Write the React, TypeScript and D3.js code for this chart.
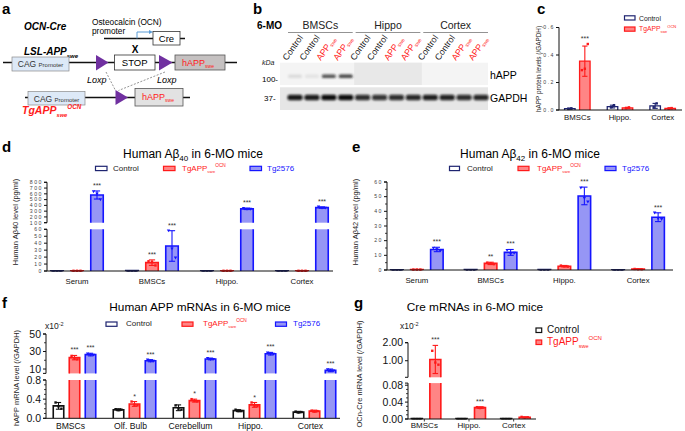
import React from 'react';
import * as d3 from 'd3';

const FONT = '"Liberation Sans", Arial, Helvetica, sans-serif';
const RED = '#ff1a1a';
const RED_FILL = '#ff8585';
const BLUE = '#1515ff';
const BLUE_FILL = '#9696f5';
const NAVY = '#1e2470';
const PURPLE = '#7030a0';

// b: western blot lanes
const blotTissues = ['BMSCs', 'Hippo', 'Cortex'];
const blotLanes = ['Control', 'Control', 'APPswe', 'APPswe', 'Control', 'Control', 'APPswe', 'APPswe', 'Control', 'Control', 'APPswe', 'APPswe'];
const hAPPBand = [0.1, 0.07, 0.75, 0.82, 0, 0, 0, 0, 0, 0, 0, 0];
const gapdhBand = [0.95, 0.93, 1, 1, 0.85, 0.82, 0.85, 0.88, 0.92, 0.9, 0.85, 0.88];

// c: hAPP protein / GAPDH
const cGroups = ['BMSCs', 'Hippo.', 'Cortex'];
const cControl = [0.01, 0.025, 0.03];
const cControlErr = [0.004, 0.01, 0.018];
const cControlPts = [[0.008, 0.012], [0.02, 0.035], [0.02, 0.048]];
const cTg = [0.355, 0.016, 0.012];
const cTgErr = [0.11, 0.004, 0.004];
const cTgPts = [[0.29, 0.3, 0.48], [0.013, 0.019], [0.01, 0.014]];
const cTgStars = ['***', '', ''];
const cTicks = [0, 0.2, 0.4, 0.6];

// d: Abeta40 (pg/ml)
const dGroups = ['Serum', 'BMSCs', 'Hippo.', 'Cortex'];
const dControl = [0.3, 0.6, 0.3, 0.3];
const dTg = [0.3, 12, 0.3, 0.3];
const dTgErr = [0, 4, 0, 0];
const dTgPts = [[0.3, 0.3, 0.3], [14, 13, 8], [0.3, 0.3, 0.3], [0.3, 0.3, 0.3]];
const dTgStars = ['', '***', '', ''];
const d2576 = [580, 36, 340, 362];
const d2576Err = [70, 22, 12, 12];
const d2576Pts = [[640, 600, 500], [58, 32, 19], [350, 335, 335], [375, 355, 356]];
const d2576Stars = ['***', '***', '***', '***'];
const dLowTicks = [0, 10, 20, 30, 40, 50, 60];
const dHighTicks = [100, 200, 300, 400, 500, 600, 700, 800];

// e: Abeta42 (pg/ml)
const eGroups = ['Serum', 'BMSCs', 'Hippo.', 'Cortex'];
const eControl = [0.2, 0.3, 0.3, 0.2];
const eTg = [0.3, 4.5, 2.6, 0.6];
const eTgErr = [0, 0.8, 0.5, 0.2];
const eTgPts = [[0.3, 0.3, 0.3], [5, 4.5, 4], [3, 2.5, 2.3], [0.7, 0.5, 0.5]];
const eTgStars = ['', '**', '', ''];
const e2576 = [14, 12, 50.5, 36];
const e2576Err = [1.5, 2, 6, 3];
const e2576Pts = [[15, 14, 13], [13.5, 11, 11.5], [56, 49, 46.5], [39, 35, 34.5]];
const e2576Stars = ['***', '***', '***', '***'];
const eTicks = [0, 10, 20, 30, 40, 50, 60];
const eMinor = [5, 15, 25, 35, 45, 55];

// f: human APP mRNA (x10^-2)
const fGroups = ['BMSCs', 'Olf. Bulb', 'Cerebellum', 'Hippo.', 'Cortex'];
const fControl = [0.26, 0.18, 0.22, 0.16, 0.13];
const fControlErr = [0.07, 0.02, 0.06, 0.02, 0.015];
const fControlPts = [[0.33, 0.25, 0.2], [0.19, 0.17, 0.18], [0.27, 0.2, 0.18], [0.18, 0.15, 0.15], [0.14, 0.12, 0.13]];
const fTg = [23, 0.3, 0.37, 0.28, 0.15];
const fTgErr = [2.5, 0.05, 0.03, 0.05, 0.02];
const fTgPts = [[25, 22, 21], [0.35, 0.28, 0.27], [0.4, 0.36, 0.35], [0.33, 0.26, 0.25], [0.16, 0.14, 0.15]];
const fTgStars = ['***', '*', '*', '*', ''];
const f2576 = [26.5, 19.5, 21.5, 27.5, 8.5];
const f2576Err = [1.5, 1.2, 1, 1.5, 1.5];
const f2576Pts = [[27.5, 26, 26], [20.5, 19, 19], [22.3, 21, 21.2], [28.5, 27, 27], [9.5, 8, 8]];
const f2576Stars = ['***', '***', '***', '***', '***'];

// g: Cre mRNA (x10^-2)
const gGroups = ['BMSCs', 'Hippo.', 'Cortex'];
const gControl = [0.001, 0.001, 0.001];
const gControlPts = [[0.001, 0.001, 0.001], [0.001, 0.001, 0.001], [0.001, 0.001, 0.001]];
const gTg = [1.07, 0.027, 0.004];
const gTgErr = [0.78, 0.002, 0.001];
const gTgPts = [[1.55, 0.9, 0.78], [0.028, 0.026, 0.027], [0.005, 0.003, 0.004]];
const gTgStars = ['***', '***', ''];

type Marker = 'tri' | 'sq' | 'dash' | 'circ';
type Series = { values: number[]; errs: number[]; points: number[][]; stars: string[]; stroke: string; fill: string; marker: Marker };
type Seg = { domain: [number, number]; range: [number, number]; ticks: number[]; minor?: number[]; fmt: (v: number) => string };
type TickStyle = { size: number; spacing: number; fill: string; gap: number };

const tinyTick: TickStyle = { size: 5.2, spacing: 1.5, fill: '#444', gap: 4 };
const bigTick: TickStyle = { size: 10.5, spacing: 0, fill: '#111', gap: 5 };

const zeros = (n: number) => new Array(n).fill(0);
const noStars = (n: number) => new Array(n).fill('');

function segScale(seg: Seg) {
  return d3.scaleLinear().domain(seg.domain).range(seg.range).clamp(true);
}

function makeY(segs: Seg[]) {
  const sc = segs.map(segScale);
  return (v: number) => {
    const i = segs.findIndex((s) => v <= s.domain[1]);
    return sc[i < 0 ? segs.length - 1 : i](v);
  };
}

function Mark({ type, x, y, color }: any) {
  if (type === 'tri') return <path d={`M${x - 1.7},${y - 1.3}H${x + 1.7}L${x},${y + 1.6}Z`} fill={color} />;
  if (type === 'sq') return <rect x={x - 1.2} y={y - 1.2} width={2.4} height={2.4} fill={color} />;
  if (type === 'circ') return <circle cx={x} cy={y} r={1.3} fill={color} />;
  return <rect x={x - 1.3} y={y - 0.7} width={2.6} height={1.4} fill={color} />;
}

function BarChart({ groups, series, x0, x1, offsets, barW, segs, axisX, xEnd, tick, labelY, labelSize, labelDx = 0, strokeW = 1.3, starSize = 7, catTicks = false }: any) {
  const x = d3.scaleBand<string>().domain(groups).range([x0, x1]);
  const y = makeY(segs);
  const base = segs[0].range[0];
  const center = (gi: number) => (x(groups[gi]) as number) + x.bandwidth() / 2;

  return (
    <g>
      {series.map((s: Series, si: number) =>
        groups.map((g: string, gi: number) => {
          const cx = center(gi) + offsets[si];
          const v = s.values[gi];
          const e = s.errs[gi];
          const left = cx - barW / 2;
          const pts = s.points[gi];
          const spread = barW * 0.28;
          const topVal = Math.max(v + e, ...(pts.length ? pts : [v]));
          return (
            <g key={`${si}-${g}`}>
              {segs.map((seg: Seg, k: number) => {
                const lo = k === 0 ? 0 : seg.domain[0];
                if (v <= lo) return null;
                const sc = segScale(seg);
                const yb = sc(lo);
                const yt = sc(Math.min(v, seg.domain[1]));
                const isTop = v <= seg.domain[1] || k === segs.length - 1;
                const d = `M${left},${yb}V${yt}${isTop ? `H${left + barW}` : `M${left + barW},${yt}`}V${yb}`;
                return (
                  <g key={k}>
                    <rect x={left} y={yt} width={barW} height={Math.max(0, yb - yt)} fill={s.fill} />
                    <path d={d} fill="none" stroke={s.stroke} strokeWidth={strokeW} />
                  </g>
                );
              })}
              {e > 0 && (
                <g stroke={s.stroke} strokeWidth={1.1}>
                  <line x1={cx} x2={cx} y1={y(Math.max(0, v - e))} y2={y(v + e)} />
                  <line x1={cx - barW * 0.25} x2={cx + barW * 0.25} y1={y(v + e)} y2={y(v + e)} />
                  <line x1={cx - barW * 0.25} x2={cx + barW * 0.25} y1={y(Math.max(0, v - e))} y2={y(Math.max(0, v - e))} />
                </g>
              )}
              {pts.map((p: number, pi: number) => (
                <Mark key={pi} type={s.marker} x={cx + (pi - (pts.length - 1) / 2) * spread} y={y(p)} color={s.stroke} />
              ))}
              {s.stars[gi] && (
                <text x={cx} y={y(topVal) - 3} textAnchor="middle" fontSize={starSize} fill="#333">
                  {s.stars[gi]}
                </text>
              )}
            </g>
          );
        })
      )}
      {segs.map((seg: Seg, k: number) => {
        const sc = segScale(seg);
        return (
          <g key={k} stroke="#111">
            <line x1={axisX} x2={axisX} y1={seg.range[0]} y2={seg.range[1]} strokeWidth={1} />
            {seg.range.map((r, ri) => (
              <line key={`e${ri}`} x1={axisX - 3} x2={axisX} y1={r} y2={r} strokeWidth={1} />
            ))}
            {seg.ticks.map((t) => (
              <g key={t}>
                <line x1={axisX - 3} x2={axisX} y1={sc(t)} y2={sc(t)} strokeWidth={1} />
                <text x={axisX - tick.gap} y={sc(t)} dy="0.35em" textAnchor="end" fontSize={tick.size} letterSpacing={tick.spacing} fill={tick.fill} stroke="none">
                  {seg.fmt(t)}
                </text>
              </g>
            ))}
            {(seg.minor || []).map((t) => (
              <line key={`m${t}`} x1={axisX - 2} x2={axisX} y1={sc(t)} y2={sc(t)} strokeWidth={0.8} />
            ))}
          </g>
        );
      })}
      <line x1={axisX} x2={xEnd} y1={base} y2={base} stroke="#111" strokeWidth={1} />
      {groups.map((g: string, gi: number) => (
        <g key={g}>
          {catTicks && <line x1={center(gi) + labelDx} x2={center(gi) + labelDx} y1={base} y2={base + 2.5} stroke="#111" strokeWidth={0.8} />}
          <text x={center(gi) + labelDx} y={labelY} textAnchor="middle" fontSize={labelSize} fill="#111">
            {g}
          </text>
        </g>
      ))}
    </g>
  );
}

function TgText({ x, y, size, fill = RED, anchor = 'start', bold = false, italic = false }: any) {
  return (
    <text x={x} y={y} fontSize={size} fill={fill} textAnchor={anchor} fontWeight={bold ? 'bold' : 'normal'} fontStyle={italic ? 'italic' : 'normal'}>
      TgAPP
      <tspan fontSize={size * 0.55} dy={size * 0.25}>swe</tspan>
      <tspan fontSize={size * 0.6} dy={-size * 0.75}>OCN</tspan>
    </text>
  );
}

function LegBox({ x, y, w = 11, h = 4.5, fill, stroke }: any) {
  return <rect x={x} y={y} width={w} height={h} fill={fill} stroke={stroke} strokeWidth={1.2} />;
}

function PanelLetter({ x, y, t }: any) {
  return <text x={x} y={y} fontSize={15} fontWeight="bold">{t}</text>;
}

function PanelA() {
  return (
    <g>
      <PanelLetter x={2} y={14} t="a" />
      <text x={24} y={30} fontSize={10} fontWeight="bold" fontStyle="italic">OCN-Cre</text>
      <text x={92} y={24.5} fontSize={8.3}>Osteocalcin (OCN)</text>
      <text x={92} y={34} fontSize={8.3}>promoter</text>
      <line x1={104} x2={185} y1={38.5} y2={38.5} stroke="#111" strokeWidth={1.3} />
      <path d="M137,38.5V32H150" fill="none" stroke="#5b9bd5" strokeWidth={1} />
      <path d="M149,30L153,32L149,34Z" fill="#5b9bd5" />
      <rect x={153} y={31.5} width={27} height={13.5} fill="#fff" stroke="#333" strokeWidth={0.8} />
      <text x={166.5} y={42} fontSize={9.5} textAnchor="middle">Cre</text>

      <text x={24} y={55} fontSize={10} fontWeight="bold" fontStyle="italic">
        LSL-APP<tspan fontSize={6} dy={2.5}>swe</tspan>
      </text>
      <text x={135} y={53} fontSize={10} fontWeight="bold" textAnchor="middle">X</text>
      <line x1={3} x2={237} y1={62.5} y2={62.5} stroke="#111" strokeWidth={1.3} />
      <rect x={12} y={57} width={57} height={14} fill="#dde9f7" stroke="#8a8a8a" strokeWidth={0.7} />
      <text x={40.5} y={67} fontSize={8.5} textAnchor="middle" fill="#333">
        CAG <tspan fontSize={6}>Promoter</tspan>
      </text>
      <path d="M96,55L108.5,62.5L96,70.5Z" fill={PURPLE} />
      <rect x={114.5} y={55} width={40.5} height={15} fill="#fff" stroke="#333" strokeWidth={0.8} />
      <text x={134.7} y={66} fontSize={9.5} textAnchor="middle">STOP</text>
      <path d="M159,55L172.5,62.5L159,70.5Z" fill={PURPLE} />
      <rect x={175} y={55} width={50} height={15} fill="#c5c1c1" stroke="#555" strokeWidth={0.8} />
      <text x={182} y={66} fontSize={9} fill={RED}>
        hAPP<tspan fontSize={5} dy={1.5}>swe</tspan>
      </text>
      <text x={87} y={83} fontSize={9} fontStyle="italic">Loxp</text>
      <text x={157} y={83} fontSize={9} fontStyle="italic">Loxp</text>
      <line x1={106} y1={72} x2={115.5} y2={90.5} stroke="#666" strokeWidth={0.7} strokeDasharray="2,1.5" />
      <line x1={165} y1={72} x2={118.5} y2={90.5} stroke="#666" strokeWidth={0.7} strokeDasharray="2,1.5" />

      <line x1={25} x2={190} y1={97.5} y2={97.5} stroke="#111" strokeWidth={1.3} />
      <rect x={28} y={91.5} width={57} height={13.5} fill="#dde9f7" stroke="#8a8a8a" strokeWidth={0.7} />
      <text x={56.5} y={101.5} fontSize={8.5} textAnchor="middle" fill="#333">
        CAG <tspan fontSize={6}>Promoter</tspan>
      </text>
      <path d="M115.5,90L128,97.5L115.5,105Z" fill={PURPLE} />
      <rect x={135} y={88.5} width={48} height={17.5} fill="#e2e2e2" stroke="#555" strokeWidth={0.8} />
      <text x={142} y={100} fontSize={9} fill={RED}>
        hAPP<tspan fontSize={5} dy={1.5}>swe</tspan>
      </text>
      <TgText x={22} y={114} size={10.5} bold italic />
    </g>
  );
}

function PanelB() {
  const lane = d3.scalePoint<number>().domain(d3.range(blotLanes.length)).range([295, 481]);
  const lx = (i: number) => lane(i) as number;
  return (
    <g>
      <defs>
        <filter id="bl" x="-50%" y="-50%" width="200%" height="200%">
          <feGaussianBlur stdDeviation="0.9" />
        </filter>
      </defs>
      <PanelLetter x={253} y={14} t="b" />
      <text x={257} y={28.5} fontSize={10} fontWeight="bold">6-MO</text>
      {blotTissues.map((t, ti) => {
        const a = lx(ti * 4) - 7;
        const b = lx(ti * 4 + 3) + 7;
        return (
          <g key={t}>
            <text x={(a + b) / 2} y={28.5} fontSize={10.5} textAnchor="middle" fill="#222">{t}</text>
            <line x1={a} x2={b} y1={32.5} y2={32.5} stroke="#777" strokeWidth={0.8} />
          </g>
        );
      })}
      {blotLanes.map((l, i) => (
        <text key={i} transform={`translate(${lx(i) - 8},${61}) rotate(-55)`} fontSize={8.8} fill={l === 'Control' ? '#111' : RED}>
          {l === 'Control' ? 'Control' : (
            <>
              APP<tspan fontSize={5.2} dy={1.5}>swe</tspan>
            </>
          )}
        </text>
      ))}
      <rect x={280} y={62.7} width={208} height={22.3} fill="#f4f4f4" />
      <rect x={lx(4) - 8.5} y={62.7} width={lx(7) - lx(4) + 17} height={22.3} fill="#e8e8e8" />
      <rect x={280} y={87.3} width={208} height={22.7} fill="#e6e6e6" />
      <g filter="url(#bl)">
        {hAPPBand.map((v, i) =>
          v > 0 ? <rect key={i} x={lx(i) - 7} y={74.5} width={14} height={3.5} rx={1.5} fill={`rgba(30,30,30,${v})`} /> : null
        )}
        {gapdhBand.map((v, i) => (
          <rect key={i} x={lx(i) - 7.5} y={94.8} width={15} height={5.5} rx={2} fill={`rgba(12,12,12,${v})`} />
        ))}
      </g>
      <text x={262} y={65} fontSize={7} fontStyle="italic" fill="#222">kDa</text>
      <text x={262} y={81.5} fontSize={8}>100-</text>
      <text x={264} y={100.5} fontSize={8}>37-</text>
      <text x={490} y={79} fontSize={10.5}>hAPP</text>
      <text x={490} y={101.5} fontSize={10.5}>GAPDH</text>
    </g>
  );
}

export default function App() {
  const fmt1 = d3.format('.1f');
  const fmt0 = d3.format('d');
  const fmt2 = d3.format('.2f');

  const cSeries: Series[] = [
    { values: cControl, errs: cControlErr, points: cControlPts, stars: noStars(3), stroke: NAVY, fill: '#fff', marker: 'sq' },
    { values: cTg, errs: cTgErr, points: cTgPts, stars: cTgStars, stroke: RED, fill: RED_FILL, marker: 'sq' },
  ];
  const dSeries: Series[] = [
    { values: dControl, errs: zeros(4), points: [[0, 0, 0], [0, 0, 0], [0, 0, 0], [0, 0, 0]], stars: noStars(4), stroke: NAVY, fill: '#fff', marker: 'dash' },
    { values: dTg, errs: dTgErr, points: dTgPts, stars: dTgStars, stroke: RED, fill: RED_FILL, marker: 'sq' },
    { values: d2576, errs: d2576Err, points: d2576Pts, stars: d2576Stars, stroke: BLUE, fill: BLUE_FILL, marker: 'tri' },
  ];
  const eSeries: Series[] = [
    { values: eControl, errs: zeros(4), points: [[0, 0, 0], [0, 0, 0], [0, 0, 0], [0, 0, 0]], stars: noStars(4), stroke: NAVY, fill: '#fff', marker: 'dash' },
    { values: eTg, errs: eTgErr, points: eTgPts, stars: eTgStars, stroke: RED, fill: RED_FILL, marker: 'sq' },
    { values: e2576, errs: e2576Err, points: e2576Pts, stars: e2576Stars, stroke: BLUE, fill: BLUE_FILL, marker: 'tri' },
  ];
  const fSeries: Series[] = [
    { values: fControl, errs: fControlErr, points: fControlPts, stars: noStars(5), stroke: '#111', fill: '#fff', marker: 'sq' },
    { values: fTg, errs: fTgErr, points: fTgPts, stars: fTgStars, stroke: RED, fill: RED_FILL, marker: 'sq' },
    { values: f2576, errs: f2576Err, points: f2576Pts, stars: f2576Stars, stroke: BLUE, fill: BLUE_FILL, marker: 'tri' },
  ];
  const gSeries: Series[] = [
    { values: gControl, errs: zeros(3), points: gControlPts, stars: noStars(3), stroke: '#111', fill: '#fff', marker: 'dash' },
    { values: gTg, errs: gTgErr, points: gTgPts, stars: gTgStars, stroke: RED, fill: RED_FILL, marker: 'sq' },
  ];

  return (
    <svg width={685} height={431} style={{ position: 'absolute', left: 0, top: 0, background: '#fff' }} fontFamily={FONT}>
      <PanelA />
      <PanelB />

      {/* c */}
      <PanelLetter x={537} y={14} t="c" />
      <text transform="translate(541,69) rotate(-90)" fontSize={6.4} textAnchor="middle" fill="#222">hAPP protein levels (/GAPDH)</text>
      <LegBox x={624.5} y={15.8} w={10.5} h={4.2} fill="#fff" stroke={NAVY} />
      <text x={639} y={20.5} fontSize={6.8} fill="#222">Control</text>
      <LegBox x={624.5} y={27} w={10.5} h={4.2} fill={RED_FILL} stroke={RED} />
      <TgText x={639} y={31.2} size={6.8} />
      <BarChart groups={cGroups} series={cSeries} x0={556} x1={684} offsets={[-7.5, 7.5]} barW={10.5}
        segs={[{ domain: [0, 0.6], range: [110, 27.5], ticks: cTicks, fmt: fmt1 }]}
        axisX={559} xEnd={682} tick={tinyTick} labelY={120} labelSize={7.8} />

      {/* d */}
      <PanelLetter x={2} y={152} t="d" />
      <text x={193} y={158} fontSize={12} textAnchor="middle">
        Human Aβ<tspan fontSize={8} dy={2.5}>40</tspan><tspan dy={-2.5}> in 6-MO mice</tspan>
      </text>
      <LegBox x={95.5} y={166.3} w={11.5} h={4.3} fill="#fff" stroke={NAVY} />
      <text x={113} y={170.5} fontSize={8} fill="#222">Control</text>
      <LegBox x={163.5} y={166.3} w={11.5} h={4.3} fill={RED_FILL} stroke={RED} />
      <TgText x={182} y={170.5} size={8} />
      <LegBox x={250} y={166.3} w={11.5} h={4.3} fill={BLUE_FILL} stroke={BLUE} />
      <text x={267} y={170.5} fontSize={8} fill={BLUE}>Tg2576</text>
      <text transform="translate(18,222) rotate(-90)" fontSize={7.5} textAnchor="middle" fill="#222">Human Aβ40 level (pg/ml)</text>
      <BarChart groups={dGroups} series={dSeries} x0={39.5} x1={339.5} offsets={[-20, 0, 20]} barW={12.5} strokeW={1.6}
        segs={[
          { domain: [0, 60], range: [271, 229.3], ticks: dLowTicks, fmt: fmt0 },
          { domain: [100, 800], range: [222.7, 182.3], ticks: dHighTicks, fmt: fmt0 },
        ]}
        axisX={47} xEnd={333} tick={tinyTick} labelY={284} labelSize={7.8} />

      {/* e */}
      <PanelLetter x={352} y={152} t="e" />
      <text x={530} y={158} fontSize={12} textAnchor="middle">
        Human Aβ<tspan fontSize={8} dy={2.5}>42</tspan><tspan dy={-2.5}> in 6-MO mice</tspan>
      </text>
      <LegBox x={449.5} y={166.3} w={10} h={4.3} fill="#fff" stroke={NAVY} />
      <text x={467} y={170.5} fontSize={8} fill="#222">Control</text>
      <LegBox x={518} y={166.3} w={11} h={4.3} fill={RED_FILL} stroke={RED} />
      <TgText x={537} y={170.5} size={8} />
      <LegBox x={605} y={166.3} w={11} h={4.3} fill={BLUE_FILL} stroke={BLUE} />
      <text x={622} y={170.5} fontSize={8} fill={BLUE}>Tg2576</text>
      <text transform="translate(358,222) rotate(-90)" fontSize={7.5} textAnchor="middle" fill="#222">Human Aβ42 level (pg/ml)</text>
      <BarChart groups={eGroups} series={eSeries} x0={380} x1={675} offsets={[-20, 0, 20]} barW={12.5} strokeW={1.6}
        segs={[{ domain: [0, 60], range: [270, 182], ticks: eTicks, minor: eMinor, fmt: fmt0 }]}
        axisX={387} xEnd={673} tick={tinyTick} labelY={283} labelSize={7.8} />

      {/* f */}
      <PanelLetter x={2} y={308} t="f" />
      <text x={200} y={311} fontSize={11.8} textAnchor="middle">Human APP mRNAs in 6-MO mice</text>
      <LegBox x={106} y={322} w={11} h={4.3} fill="#fff" stroke={NAVY} />
      <text x={126} y={326} fontSize={8} fill="#222">Control</text>
      <LegBox x={182} y={322} w={11} h={4.3} fill={RED_FILL} stroke={RED} />
      <TgText x={203} y={326} size={8} />
      <LegBox x={275.5} y={322} w={11} h={4.3} fill={BLUE_FILL} stroke={BLUE} />
      <text x={293} y={326} fontSize={8} fill={BLUE}>Tg2576</text>
      <text x={45} y={329} fontSize={8.5} fill="#222">x10<tspan fontSize={5.5} dy={-3.5}>-2</tspan></text>
      <text transform="translate(19,378) rotate(-90)" fontSize={7.5} textAnchor="middle" fill="#222">hAPP mRNA level (/GAPDH)</text>
      <BarChart groups={fGroups} series={fSeries} x0={44.5} x1={344.5} offsets={[-16, 0, 16]} barW={10.5} strokeW={1.6}
        segs={[
          { domain: [0, 0.8], range: [418.3, 380], ticks: [0, 0.4, 0.8], minor: [0.1, 0.2, 0.3, 0.5, 0.6, 0.7], fmt: fmt1 },
          { domain: [5, 50], range: [373.4, 334], ticks: [10, 30, 50], minor: [20, 40], fmt: fmt0 },
        ]}
        axisX={46} xEnd={340} tick={bigTick} labelY={428.5} labelSize={8.6} labelDx={-4} />

      {/* g */}
      <PanelLetter x={354} y={308} t="g" />
      <text x={475} y={311} fontSize={11.8} textAnchor="middle">Cre mRNAs in 6-MO mice</text>
      <text x={400} y={329} fontSize={8.5} fill="#222">x10<tspan fontSize={5.5} dy={-3.5}>-2</tspan></text>
      <text transform="translate(362,374) rotate(-90)" fontSize={7.5} textAnchor="middle" fill="#222">OCn-Cre mRNA level (/GAPDH)</text>
      <LegBox x={536} y={328} w={5.7} h={4.5} fill="#fff" stroke="#111" />
      <text x={547} y={333} fontSize={10} fill="#111">Control</text>
      <LegBox x={536} y={340} w={5.7} h={4.5} fill={RED_FILL} stroke={RED} />
      <TgText x={547} y={345} size={10} />
      <BarChart groups={gGroups} series={gSeries} x0={404} x1={538} offsets={[-9.5, 9]} barW={11} strokeW={1.6}
        segs={[
          { domain: [0, 0.085], range: [419, 383.1], ticks: [0, 0.04, 0.08], minor: [0.01, 0.02, 0.03, 0.05, 0.06, 0.07], fmt: fmt2 },
          { domain: [0.08, 2], range: [377.3, 342.7], ticks: [1, 2], fmt: fmt2 },
        ]}
        axisX={408} xEnd={536} tick={bigTick} labelY={427.5} labelSize={8} labelDx={-2} catTicks />
    </svg>
  );
}
